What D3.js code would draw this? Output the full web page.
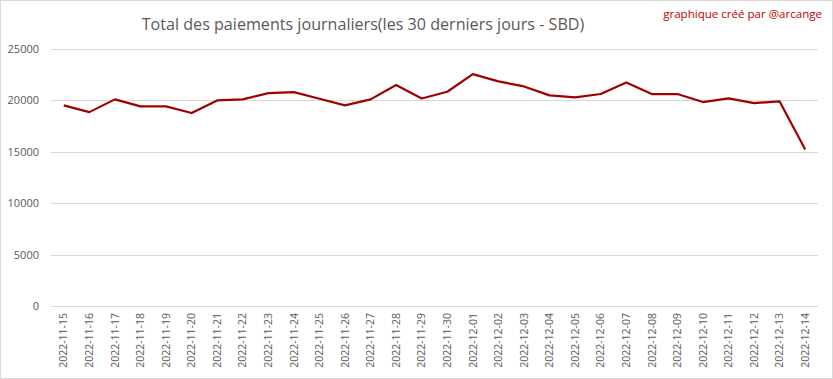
<!DOCTYPE html>
<html><head><meta charset="utf-8">
<script src="https://cdn.jsdelivr.net/npm/d3@7"></script>
<style>body{margin:0;background:#fff}svg{display:block}</style>
</head><body>
<svg id="c" width="833" height="379"></svg>
<script>
const categories = ["2022-11-15","2022-11-16","2022-11-17","2022-11-18","2022-11-19","2022-11-20","2022-11-21","2022-11-22","2022-11-23","2022-11-24","2022-11-25","2022-11-26","2022-11-27","2022-11-28","2022-11-29","2022-11-30","2022-12-01","2022-12-02","2022-12-03","2022-12-04","2022-12-05","2022-12-06","2022-12-07","2022-12-08","2022-12-09","2022-12-10","2022-12-11","2022-12-12","2022-12-13","2022-12-14"];
const values = [19510,18860,20100,19415,19415,18770,20000,20100,20710,20810,20160,19510,20100,21490,20190,20840,22560,21850,21360,20490,20290,20620,21750,20620,20620,19840,20190,19740,19900,15230];
const yTicks = [0,5000,10000,15000,20000,25000];
const title = "Total des paiements journaliers(les 30 derniers jours - SBD)";
const credit = "graphique créé par @arcange";

const svg = d3.select("#c");
svg.append("rect").attr("x",0.5).attr("y",0.5).attr("width",832).attr("height",378)
  .attr("fill","#fff").attr("stroke","#d9d9d9");

const L=51, R=818, T=49, B=306;
const x = d3.scaleBand().domain(categories).range([L,R]);
const y = d3.scaleLinear().domain([0,25000]).range([B,T]);

// grid
svg.append("g").selectAll("line").data(yTicks).join("line")
  .attr("x1",L).attr("x2",R)
  .attr("y1",d=>Math.round(y(d))+0.5).attr("y2",d=>Math.round(y(d))+0.5)
  .attr("stroke","#d9d9d9").attr("stroke-width",1);

// y axis labels
const ya = svg.append("g").attr("transform",`translate(${L-12},0)`)
  .call(d3.axisLeft(y).tickValues(yTicks).tickSize(0).tickPadding(0).tickFormat(d3.format("d")));
ya.select(".domain").remove();
ya.selectAll("text").attr("fill","#595959").style("font-family","'Open Sans',Calibri,sans-serif").style("font-size","11px");

// x axis labels
const xa = svg.append("g").attr("transform",`translate(0,${B})`)
  .call(d3.axisBottom(x).tickSize(0).tickPadding(0));
xa.select(".domain").remove();
xa.selectAll("text")
  .attr("fill","#595959").style("font-family","'Open Sans',Calibri,sans-serif").style("font-size","10.5px")
  .attr("text-anchor","end").attr("transform","rotate(-90)").attr("x",-7).attr("y",0).attr("dy","0.35em");

// line
const line = d3.line().x((d,i)=>x(categories[i])+x.bandwidth()/2).y(d=>y(d));
svg.append("path").datum(values).attr("d",line).attr("fill","none")
  .attr("stroke","#a00000").attr("stroke-width",2.2).attr("stroke-linejoin","round");

// title
const t = svg.append("text").attr("x",363).attr("y",30).attr("text-anchor","middle")
  .attr("fill","#595959").style("font-family","'Open Sans',Calibri,sans-serif").style("font-size","18px").text(title);
const tw = t.node().getComputedTextLength();
t.style("font-size",(18*443/tw).toFixed(2)+"px");

const c = svg.append("text").attr("x",822).attr("y",18).attr("text-anchor","end")
  .attr("fill","#c00000").style("font-family","'Open Sans',Calibri,sans-serif").style("font-size","12px").text(credit);
const cw = c.node().getComputedTextLength();
c.style("font-size",(12*159/cw).toFixed(2)+"px");
</script>
</body></html>
